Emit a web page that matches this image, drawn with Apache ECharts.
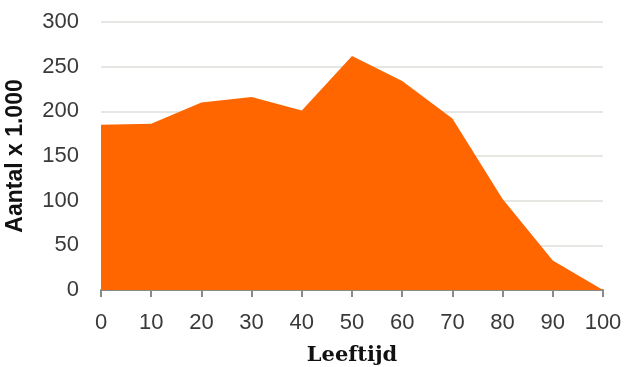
<!DOCTYPE html>
<html><head><meta charset="utf-8">
<script src="https://cdn.jsdelivr.net/npm/echarts@6/dist/echarts.min.js"></script>
<style>html,body{margin:0;padding:0;background:#fff}#c{width:624px;height:367px}</style>
</head><body><div id="c"></div>
<script>
const ages = [0, 10, 20, 30, 40, 50, 60, 70, 80, 90, 100];
const counts = [185, 186, 210, 216, 201, 262, 234, 192, 102, 33, 0];
const xTicks = [0, 10, 20, 30, 40, 50, 60, 70, 80, 90, 100];
const yTicks = [0, 50, 100, 150, 200, 250, 300];
const xTitle = 'Leeftijd';
const yTitle = 'Aantal x 1.000';

const chart = echarts.init(document.getElementById('c'));
chart.setOption({
  animation: false,
  grid: {left: 101, right: 21, top: 22, bottom: 77, containLabel: false, outerBoundsMode: 'none'},
  xAxis: {
    type: 'value', min: xTicks[0], max: xTicks[xTicks.length-1], interval: 10,
    name: xTitle, nameLocation: 'middle', nameGap: 55,
    nameTextStyle: {fontFamily: 'DejaVu Serif', fontWeight: 'bold', fontSize: 21, color: '#111'},
    axisLine: {show: true, lineStyle: {color: '#8a8a8a', width: 2}},
    axisTick: {show: true, length: 7, lineStyle: {color: '#8a8a8a', width: 2}},
    axisLabel: {fontFamily: 'Liberation Sans', fontSize: 22, color: '#3a3a3a', margin: 22},
    splitLine: {show: false}
  },
  yAxis: {
    type: 'value', min: yTicks[0], max: yTicks[yTicks.length-1], interval: 50,
    name: yTitle, nameLocation: 'middle', nameGap: 74, nameRotate: 90,
    nameTextStyle: {fontFamily: 'Liberation Sans', fontWeight: 'bold', fontSize: 23, color: '#111'},
    axisLine: {show: false}, axisTick: {show: false},
    axisLabel: {fontFamily: 'Liberation Sans', fontSize: 22, color: '#3a3a3a', margin: 22},
    splitLine: {show: true, lineStyle: {color: '#e6e6e2', width: 2}}
  },
  series: [{
    type: 'line',
    data: ages.map((a, i) => [a, counts[i]]),
    symbol: 'none',
    lineStyle: {width: 0},
    areaStyle: {color: '#ff6600', opacity: 1},
    itemStyle: {color: '#ff6600'}
  }]
});
</script></body></html>
